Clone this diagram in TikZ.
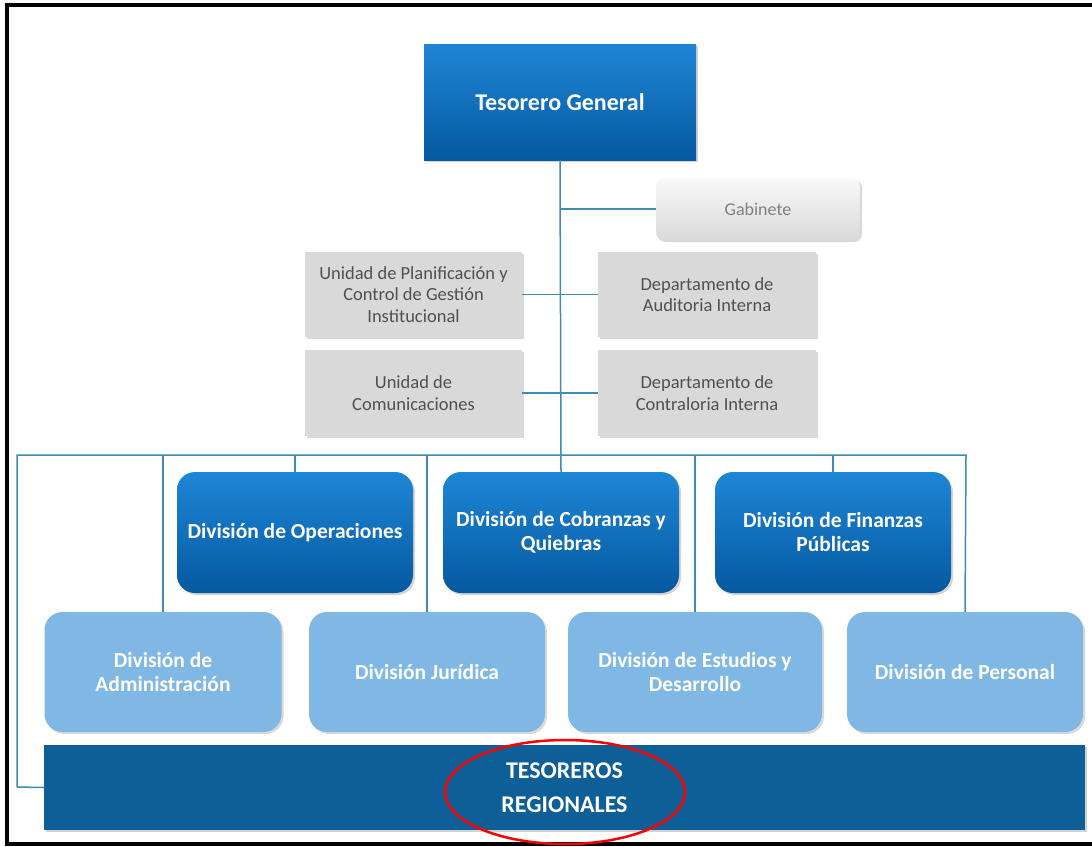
\documentclass[tikz,border=0pt]{standalone}
\usepackage{fontspec}
\setmainfont{Carlito}
\usetikzlibrary{shadows}
\definecolor{conn}{HTML}{3C8CB6}
\definecolor{dbtop}{HTML}{1E86D6}
\definecolor{dbbot}{HTML}{0559A0}
\definecolor{lbtop}{HTML}{80B8E5}
\definecolor{greybox}{HTML}{D9D9D9}
\definecolor{greytext}{HTML}{505050}
\definecolor{trblue}{HTML}{0E5F97}
\tikzset{
  darkbox/.style={top color=dbtop, bottom color=dbbot, draw=none, text=white,
    font=\bfseries\fontsize{21.5}{24}\selectfont,
    drop shadow={opacity=0.35, shadow xshift=2pt, shadow yshift=-2pt}},
  lightbox/.style={fill=lbtop, draw=none, text=white, rounded corners=18pt,
    font=\bfseries\fontsize{21.5}{23.5}\selectfont,
    drop shadow={opacity=0.3, shadow xshift=2pt, shadow yshift=-2pt}},
  greyrect/.style={fill=greybox, draw=none, text=greytext,
    font=\fontsize{18.5}{21.5}\selectfont,
    drop shadow={opacity=0.3, shadow xshift=2pt, shadow yshift=-2pt}},
  gabbox/.style={top color=white!95!gray, bottom color=greybox, draw=none, text=gray,
    rounded corners=8pt, font=\fontsize{18}{21}\selectfont,
    drop shadow={opacity=0.3, shadow xshift=2pt, shadow yshift=-2pt}},
  trbox/.style={fill=trblue, draw=none, text=white,
    font=\bfseries\fontsize{24}{34}\selectfont,
    drop shadow={opacity=0.35, shadow xshift=2pt, shadow yshift=-2pt}},
  link/.style={draw=conn, line width=1.5pt},
  frame/.style={line width=4pt, black}
}
\begin{document}
\begin{tikzpicture}[x=1pt,y=-1pt]
\useasboundingbox (0,0) rectangle (1092,846);
% frame
\draw[frame] (7,846) -- (7,5) -- (1092,5);
\draw[frame] (7,844) -- (1092,844);

\coordinate (busL) at (17,455);
\coordinate (busR) at (966,455);
\coordinate (loopB) at (17,787);

% nodes
\node[darkbox, font=\bfseries\fontsize{24}{26}\selectfont, minimum width=272pt, minimum height=116pt, align=center] (tg) at (560,102) {Tesorero General};
\node[gabbox, minimum width=204pt, minimum height=62pt] (gab) at (758,209) {Gabinete};
\node[greyrect, minimum width=217pt, minimum height=85pt, align=center] (upc) at (413.5,294.5) {Unidad de Planificación y\\Control de Gestión\\Institucional};
\node[greyrect, minimum width=218pt, minimum height=85pt, align=center] (aud) at (707,294.5) {Departamento de\\Auditoria Interna};
\node[greyrect, minimum width=217pt, minimum height=86pt, align=center] (com) at (413.5,393) {Unidad de\\Comunicaciones};
\node[greyrect, minimum width=218pt, minimum height=86pt, align=center] (con) at (707,393) {Departamento de\\Contraloria Interna};

\node[darkbox, rounded corners=18pt, minimum width=236pt, minimum height=121pt, align=center] (ope) at (295,532.5) {División de Operaciones};
\node[darkbox, rounded corners=18pt, minimum width=236pt, minimum height=121pt, align=center] (cob) at (561,532.5) {División de Cobranzas y\\Quiebras};
\node[darkbox, rounded corners=18pt, minimum width=236pt, minimum height=121pt, align=center] (fin) at (833,532.5) {División de Finanzas\\Públicas};

\node[lightbox, minimum width=237pt, minimum height=120pt, align=center] (adm) at (163,672) {División de\\Administración};
\node[lightbox, minimum width=236pt, minimum height=120pt, align=center] (jur) at (427,672) {División Jurídica};
\node[lightbox, minimum width=254pt, minimum height=120pt, align=center] (est) at (695,672) {División de Estudios y\\Desarrollo};
\node[lightbox, minimum width=236pt, minimum height=120pt, align=center] (per) at (965,672) {División de Personal};

\node[trbox, minimum width=1041pt, minimum height=85pt, align=center] (tr) at (564.5,787.5) {TESOREROS\\REGIONALES};

% connectors
\draw[link] (tg.south) -- (cob.north);
\draw[link] (tg.south |- gab.west) -- (gab.west);
\draw[link] (upc.east) -- (aud.west);
\draw[link] (com.east) -- (con.west);
\draw[link] (loopB) -- (busL) -- (busR) -- (per.north);
\draw[link] (loopB) -- (tr.west);
\draw[link] (adm.north |- busL) -- (adm.north);
\draw[link] (ope.north |- busL) -- (ope.north);
\draw[link] (jur.north |- busL) -- (jur.north);
\draw[link] (est.north |- busL) -- (est.north);
\draw[link] (fin.north |- busL) -- (fin.north);

% red ellipse
\draw[red, line width=2.5pt] (565,792) ellipse [x radius=120, y radius=52];
\end{tikzpicture}
\end{document}
